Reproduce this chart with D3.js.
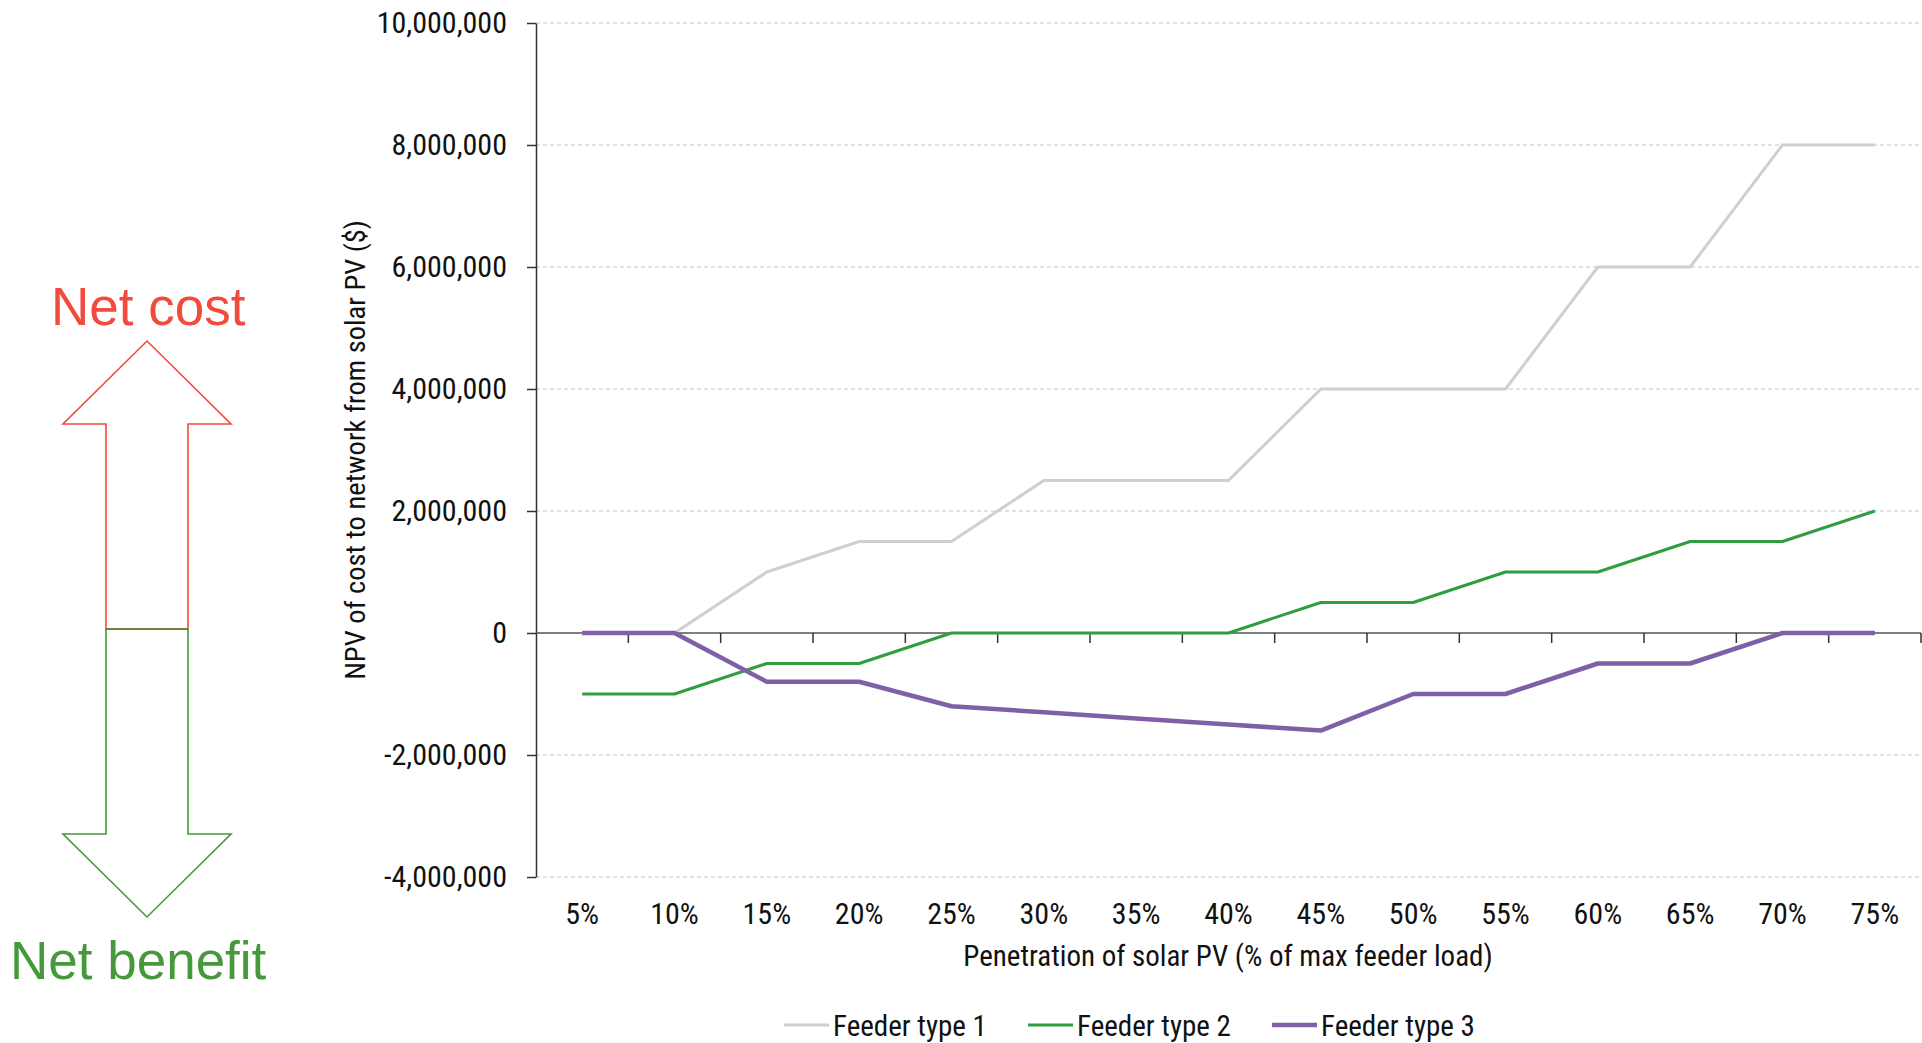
<!DOCTYPE html>
<html>
<head>
<meta charset="utf-8">
<script src="https://cdn.jsdelivr.net/npm/d3@7"></script>
<style>
  html, body { margin: 0; padding: 0; background: #fff; }
  svg { display: block; }
  .narrow { font-family: "Liberation Sans Narrow", "Arial Narrow", "Roboto Condensed", sans-serif; }
</style>
</head>
<body>
<svg id="chart" width="1922" height="1043"></svg>
<script>
// chart data
const categories = ["5%", "10%", "15%", "20%", "25%", "30%", "35%", "40%", "45%", "50%", "55%", "60%", "65%", "70%", "75%"];
const feeder1 = [0, 0, 1000000, 1500000, 1500000, 2500000, 2500000, 2500000, 4000000, 4000000, 4000000, 6000000, 6000000, 8000000, 8000000];
const feeder2 = [-1000000, -1000000, -500000, -500000, 0, 0, 0, 0, 500000, 500000, 1000000, 1000000, 1500000, 1500000, 2000000];
const feeder3 = [0, 0, -800000, -800000, -1200000, -1300000, -1400000, -1500000, -1600000, -1000000, -1000000, -500000, -500000, 0, 0];
const seriesNames = ["Feeder type 1", "Feeder type 2", "Feeder type 3"];
const yTicks = [-4000000, -2000000, 0, 2000000, 4000000, 6000000, 8000000, 10000000];

const colors = ["#cfcfcf", "#2f9e41", "#7f5fa6"];
const widths = [3, 3, 4.5];
const series = [feeder1, feeder2, feeder3];

const svg = d3.select("#chart");

const plotLeft = 536, plotRight = 1921, plotTop = 23, plotBottom = 877;

let x = d3.scalePoint().domain(categories).range([plotLeft, plotRight]).padding(0.5);
let band = d3.scaleBand().domain(categories).range([plotLeft, plotRight]);
let y = d3.scaleLinear().domain([-4000000, 10000000]).range([plotBottom, plotTop]);

const fmt = d3.formatLocale({decimal: ".", thousands: ",", grouping: [3], currency: ["$", ""], minus: "-"}).format(",");

// gridlines (dashed, zero is the axis)
svg.append("g")
    .selectAll("line")
    .data(yTicks.filter(d => d !== 0))
    .join("line")
    .attr("x1", plotLeft).attr("x2", plotRight)
    .attr("y1", d => y(d)).attr("y2", d => y(d))
    .attr("stroke", "#c4c4c4")
    .attr("stroke-width", 1.2)
    .attr("stroke-dasharray", "4,3");

// y axis
let yAxis = svg.append("g")
    .attr("class", "narrow")
    .attr("transform", "translate(" + plotLeft + ",0)")
    .call(d3.axisLeft(y).tickValues(yTicks).tickFormat(fmt).tickSize(9).tickPadding(20).tickSizeOuter(0));
yAxis.select(".domain").attr("stroke", "#333").attr("stroke-width", 1.5);
yAxis.selectAll(".tick line").attr("stroke", "#333").attr("stroke-width", 1.5);
yAxis.selectAll(".tick text").attr("font-size", 30).attr("fill", "#111");
yAxis.attr("font-family", null).attr("font-size", null);

// zero line with category ticks
svg.append("line")
    .attr("x1", plotLeft).attr("x2", plotRight)
    .attr("y1", y(0)).attr("y2", y(0))
    .attr("stroke", "#555").attr("stroke-width", 1.5);
svg.append("g")
    .selectAll("line")
    .data(categories)
    .join("line")
    .attr("x1", d => band(d) + band.bandwidth()).attr("x2", d => band(d) + band.bandwidth())
    .attr("y1", y(0)).attr("y2", y(0) + 10)
    .attr("stroke", "#333").attr("stroke-width", 1.5);

// x tick labels
svg.append("g")
    .attr("class", "narrow")
    .selectAll("text")
    .data(categories)
    .join("text")
    .attr("x", d => x(d))
    .attr("y", 924)
    .attr("text-anchor", "middle")
    .attr("font-size", 30)
    .attr("fill", "#111")
    .text(d => d);

// series lines
let line = d3.line().x((d, i) => x(categories[i])).y(d => y(d));
series.forEach((s, k) => {
    svg.append("path")
        .datum(s)
        .attr("d", line)
        .attr("fill", "none")
        .attr("stroke", colors[k])
        .attr("stroke-width", widths[k])
        .attr("stroke-linejoin", "round");
});

// axis titles
svg.append("text")
    .attr("class", "narrow")
    .attr("x", 1228).attr("y", 966)
    .attr("text-anchor", "middle")
    .attr("font-size", 29)
    .attr("fill", "#111")
    .text("Penetration of solar PV (% of max feeder load)");

svg.append("text")
    .attr("class", "narrow")
    .attr("transform", "translate(365,450) rotate(-90)")
    .attr("text-anchor", "middle")
    .attr("font-size", 28.5)
    .attr("fill", "#111")
    .text("NPV of cost to network from solar PV ($)");

// legend
let legendX = [784, 1028, 1272];
let legend = svg.append("g").attr("class", "narrow");
seriesNames.forEach((name, k) => {
    legend.append("line")
        .attr("x1", legendX[k]).attr("x2", legendX[k] + 45)
        .attr("y1", 1025).attr("y2", 1025)
        .attr("stroke", colors[k]).attr("stroke-width", widths[k]);
    legend.append("text")
        .attr("x", legendX[k] + 49).attr("y", 1036)
        .attr("font-size", 29)
        .attr("fill", "#111")
        .text(name);
});

// net cost / net benefit arrow
const red = "#f24b3d", green = "#46993a";
let cx = 147, headHalf = 84, shaftHalf = 41;
let tipTop = 341, headTop = 424, mid = 629, headBottom = 834, tipBottom = 917;
let upPts = [[cx, tipTop], [cx + headHalf, headTop], [cx + shaftHalf, headTop], [cx + shaftHalf, mid],
    [cx - shaftHalf, mid], [cx - shaftHalf, headTop], [cx - headHalf, headTop]];
let downPts = [[cx - shaftHalf, mid], [cx + shaftHalf, mid], [cx + shaftHalf, headBottom], [cx + headHalf, headBottom],
    [cx, tipBottom], [cx - headHalf, headBottom], [cx - shaftHalf, headBottom]];
svg.append("polygon").attr("points", upPts.map(p => p.join(",")).join(" "))
    .attr("fill", "none").attr("stroke", red).attr("stroke-width", 1.6);
svg.append("polygon").attr("points", downPts.map(p => p.join(",")).join(" "))
    .attr("fill", "none").attr("stroke", green).attr("stroke-width", 1.6);
svg.append("line").attr("x1", cx - shaftHalf).attr("x2", cx + shaftHalf).attr("y1", mid).attr("y2", mid)
    .attr("stroke", "#7a7a30").attr("stroke-width", 1.6);

svg.append("text")
    .attr("x", 51).attr("y", 325)
    .attr("font-family", "'Liberation Sans', Arial, sans-serif")
    .attr("font-size", 53)
    .attr("fill", red)
    .text("Net cost");
svg.append("text")
    .attr("x", 10).attr("y", 979)
    .attr("font-family", "'Liberation Sans', Arial, sans-serif")
    .attr("font-size", 53)
    .attr("fill", green)
    .text("Net benefit");
</script>
</body>
</html>
